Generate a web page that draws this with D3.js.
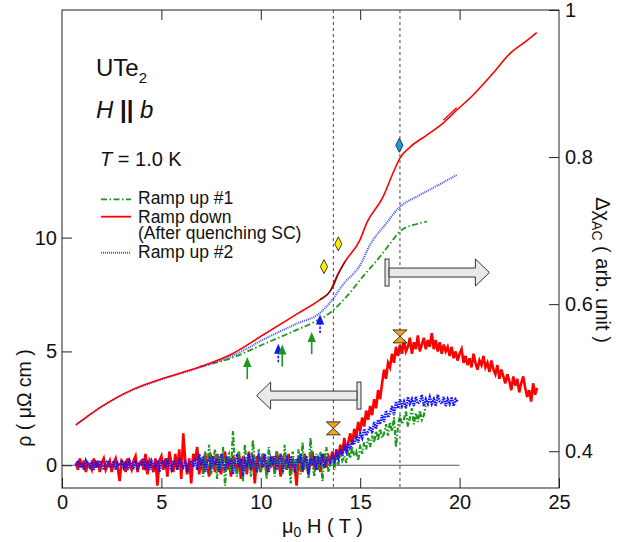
<!DOCTYPE html>
<html><head><meta charset="utf-8">
<script src="https://cdn.jsdelivr.net/npm/d3@7"></script>
<style>body{margin:0;background:#fff}svg{display:block}text{white-space:pre}</style>
</head><body><svg id="c" width="630" height="542"></svg>
<script>
// ---------------- DATA ----------------
// Resistivity (left axis, μΩ cm), sampled every fieldStep tesla
const fieldStep = 0.1;
const rhoDownStart = 0.7;
const rhoDown = [
0.1,-0.2,0.3,-0.1,0.2,-0.3,0.1,0.0,-0.2,0.3,
-0.1,0.2,-0.3,0.1,0.3,-0.2,0.0,0.2,-0.3,0.1,
0.3,-0.1,-0.7,0.2,0.1,-0.3,0.3,0.0,-0.2,0.2,
0.4,-0.3,0.1,0.2,-0.2,0.5,-0.4,0.2,0.0,-0.3,
0.3,-0.9,0.2,0.4,-0.2,0.3,-0.5,0.6,0.1,-0.3,
0.5,-0.2,0.7,-0.6,1.4,0.2,-0.4,0.3,-0.8,0.5,
0.2,0.8,-0.4,0.3,-0.3,0.5,0.0,-0.5,0.4,0.2,
-0.3,0.5,0.1,-0.4,0.3,0.6,-0.2,0.2,-0.5,0.4,
0.1,-0.3,0.5,-0.6,0.3,0.2,-0.4,0.6,-0.2,0.3,
-0.8,0.4,0.0,-0.3,0.5,0.2,-0.4,0.3,-0.1,0.4,
-0.3,0.6,0.1,-0.5,0.3,0.2,-0.2,0.5,-0.4,0.3,
0.0,-0.9,0.4,0.2,-0.3,0.5,0.1,-0.4,0.3,0.6,
-0.2,0.4,0.1,-0.3,0.5,0.2,-0.1,0.4,
0.2,0.6,0.1,0.7,0.3,0.9,0.5,1.2,0.6,1.0,
1.4,0.9,1.6,1.2,1.9,1.5,2.1,1.7,2.4,2.0,
2.6,2.2,2.9,2.5,3.3,2.9,3.6,4.2,3.8,4.5,
4.3,4.9,4.5,5.2,4.8,5.3,4.9,5.5,5.0,5.2,
5.6,4.9,5.4,5.1,5.7,5.0,5.3,5.6,5.1,5.5,
5.2,5.8,5.1,5.5,5.0,5.4,4.9,5.3,5.0,5.2,
4.8,5.2,4.7,5.0,4.6,4.9,5.1,4.5,4.8,4.4,
4.7,4.3,4.9,4.5,4.2,4.6,4.4,4.8,4.3,4.5,
4.1,4.6,4.2,4.0,4.4,3.8,4.2,3.9,3.6,4.0,
3.7,3.3,3.9,3.5,3.8,3.2,3.6,3.9,3.4,3.0,
3.3,2.8,3.6,3.1,3.4];
const rhoUp2Start = 0.7;
const rhoUp2 = [
0.0,0.2,-0.1,0.1,-0.2,0.2,0.0,-0.1,0.2,-0.2,
0.1,-0.1,0.2,0.0,-0.2,0.1,0.2,-0.1,0.0,0.2,
-0.2,0.1,0.0,0.2,-0.1,0.1,-0.2,0.2,0.0,-0.1,
0.2,-0.2,0.1,0.0,0.3,-0.1,0.1,-0.2,0.2,0.0,
-0.1,0.2,-0.3,0.1,0.2,-0.1,0.3,0.0,-0.2,0.2,
0.1,-0.2,0.3,0.0,-0.1,0.2,-0.3,0.1,0.2,-0.1,
0.3,-0.2,0.5,0.0,0.4,-0.3,0.2,0.3,-0.2,0.4,
0.0,0.3,-0.3,0.5,0.1,-0.2,0.4,0.0,0.3,-0.4,
0.2,0.4,-0.1,0.3,-0.5,0.2,0.0,0.5,-0.2,0.3,
0.1,-0.3,0.4,0.2,-0.1,0.5,0.0,-0.3,0.3,0.1,
0.4,-0.2,0.2,0.5,-0.3,0.1,0.3,-0.1,0.4,0.0,
-0.3,0.3,0.1,0.5,-0.2,0.2,0.4,-0.4,0.3,0.0,
0.4,-0.2,0.3,0.1,0.5,-0.1,0.3,0.2,
0.1,0.4,0.2,0.5,0.3,0.7,0.4,0.8,0.6,1.0,
0.7,1.1,0.9,1.3,1.0,1.4,1.2,1.6,1.3,1.5,
1.7,1.4,1.9,1.6,2.0,1.8,2.2,1.9,2.4,2.1,
2.3,2.6,2.2,2.8,2.5,2.9,2.6,2.8,2.5,3.0,
2.7,2.9,2.6,3.0,2.7,2.8,3.1,2.6,2.9,2.7,
3.0,2.7,2.9,2.6,3.1,2.8,2.7,3.0,2.6,2.9,
2.7,3.0,2.6,2.9,2.8];
const rhoUp1Start = 7.0;
const rhoUp1 = [
0.3,-0.5,0.6,-0.2,0.9,-0.4,0.2,0.7,-0.6,0.4,
-0.2,0.8,-0.9,0.3,0.5,-0.3,1.5,0.0,-0.5,0.6,
0.2,-0.7,0.9,-0.2,0.4,-0.5,1.1,0.1,-0.4,0.7,
-0.3,0.5,0.2,-0.6,0.8,-0.1,0.4,-0.5,0.6,0.0,
0.5,-0.4,0.9,-0.2,0.3,-0.8,0.6,0.1,-0.3,0.7,
-0.4,1.0,-0.2,0.4,-0.6,1.2,0.0,-0.5,0.5,-0.2,
0.6,-0.7,0.3,0.8,-0.3,
0.1,0.5,-0.2,0.4,0.0,0.6,0.2,0.4,0.1,0.7,
0.3,0.8,0.4,0.6,0.2,0.9,0.5,1.0,0.7,1.2,
0.8,1.3,1.0,1.5,1.1,1.6,1.2,1.4,1.8,1.3,
1.9,1.5,2.1,0.8,1.7,2.2,1.8,2.0,2.4,1.7,
2.1,2.5,1.8,2.3,1.9,2.4,2.0,2.2,2.6];

// AC susceptibility (right axis, arb. unit)
const chiDownField = [0.70,1.91,3.57,4.93,6.94,8.60,10.11,11.81,12.98,13.48,13.82,14.24,14.99,15.33,16.15,16.65,17.00,17.51,18.35,19.17,19.85,20.67,21.68,22.54,23.40,23.88];
const chiDownValue = [0.4357,0.4593,0.4841,0.4976,0.5148,0.5330,0.5580,0.5865,0.6061,0.6174,0.6377,0.6580,0.6875,0.7105,0.7458,0.7783,0.7986,0.8136,0.8298,0.8461,0.8637,0.8841,0.9139,0.9410,0.9586,0.9691];
const chiDownLoopField = [19.18,19.85];
const chiDownLoopValue = [0.8500,0.8670];
const chiDarkField = [12.98,13.30,13.60,13.90,14.24];
const chiDarkValue = [0.6061,0.6120,0.6220,0.6410,0.6580];
const chiUp2Field = [0.70,1.91,3.57,4.93,6.94,8.60,10.13,11.81,12.98,13.48,14.13,15.14,15.33,16.33,17.00,17.84,18.66,19.85];
const chiUp2Value = [0.4357,0.4590,0.4834,0.4970,0.5139,0.5300,0.5520,0.5735,0.5881,0.6020,0.6264,0.6603,0.6720,0.7105,0.7326,0.7462,0.7580,0.7756];
const chiUp1Field = [6.94,8.60,10.13,11.81,12.63,13.48,14.32,15.14,16.00,16.65,17.00,17.84,18.35];
const chiUp1Value = [0.5150,0.5275,0.5455,0.5650,0.5750,0.5881,0.6106,0.6377,0.6648,0.6875,0.6990,0.7090,0.7123];

// Annotations
const markLines = [13.65, 17.0];
const diamondField = [13.18, 13.90, 16.97];
const diamondValue = [0.651, 0.682, 0.816];
const diamondKind = ["y", "y", "b"];
const hourglassField = [13.65, 17.0];
const hourglassRho = [1.62, 5.66];
const smallArrowField = [9.32, 10.88, 11.08, 12.56, 12.98];
const smallArrowValue = [0.528, 0.546, 0.545, 0.562, 0.586];
const smallArrowKind = ["g", "b", "g", "g", "b"];

const xTicks = [0, 5, 10, 15, 20, 25];
const yLTicks = [0, 5, 10];
const yRTicks = [0.4, 0.6, 0.8, 1];

// ---------------- DRAW ----------------
const FONT = "'Liberation Sans', Arial, Helvetica, sans-serif";
const RED = "#ff0000", GREEN = "#1c981c", BLUE = "#1414ff", BLUE2 = "#3a4cff";
const svg = d3.select("#c");
const x = d3.scaleLinear().domain([0, 25]).range([62, 559]);
const yL = d3.scaleLinear().domain([-1, 20]).range([488, 10]);
const yR = d3.scaleLinear().domain([0.35, 1.0]).range([488, 10]);

svg.append("defs").append("clipPath").attr("id", "clip")
  .append("rect").attr("x", 62).attr("y", 10).attr("width", 497).attr("height", 478);
const plot = svg.append("g").attr("clip-path", "url(#clip)");

// zero line
plot.append("line").attr("x1", x(0)).attr("x2", x(20)).attr("y1", yL(0)).attr("y2", yL(0))
  .attr("stroke", "#555").attr("stroke-width", 1.2);

// dashed marker lines
markLines.forEach(f => {
  svg.append("line").attr("x1", x(f)).attr("x2", x(f)).attr("y1", 10).attr("y2", 488)
    .attr("stroke", "#444").attr("stroke-width", 1).attr("stroke-dasharray", "3,3");
});

const lineL = d3.line().x(d => x(d[0])).y(d => yL(d[1]));
const lineR = d3.line().x(d => x(d[0])).y(d => yR(d[1])).curve(d3.curveMonotoneX);
const lineRlin = d3.line().x(d => x(d[0])).y(d => yR(d[1]));
const noisy = (start, arr) => arr.map((v, i) => [start + i * fieldStep, v]);
const zip = (a, b) => a.map((v, i) => [v, b[i]]);

// resistivity (noisy)
plot.append("path").attr("d", lineL(noisy(rhoDownStart, rhoDown)))
  .attr("fill", "none").attr("stroke", RED).attr("stroke-width", 2.6).attr("stroke-linejoin", "miter");
plot.append("path").attr("d", lineL(noisy(rhoUp1Start, rhoUp1)))
  .attr("fill", "none").attr("stroke", GREEN).attr("stroke-width", 2.2).attr("stroke-dasharray", "5,2,1.5,2");
plot.append("path").attr("d", lineL(noisy(rhoUp2Start, rhoUp2)))
  .attr("fill", "none").attr("stroke", BLUE).attr("stroke-width", 2.5).attr("stroke-dasharray", "1.5,1");

// susceptibility (smooth)
plot.append("path").attr("d", lineR(zip(chiUp1Field, chiUp1Value)))
  .attr("fill", "none").attr("stroke", GREEN).attr("stroke-width", 1.8).attr("stroke-dasharray", "6,2.5,1.5,2.5");
plot.append("path").attr("d", lineR(zip(chiUp2Field, chiUp2Value)))
  .attr("fill", "none").attr("stroke", BLUE2).attr("stroke-width", 2).attr("stroke-dasharray", "1,1");
plot.append("path").attr("d", lineR(zip(chiDownField, chiDownValue)))
  .attr("fill", "none").attr("stroke", RED).attr("stroke-width", 1.6);
plot.append("path").attr("d", lineRlin(zip(chiDownLoopField, chiDownLoopValue)))
  .attr("fill", "none").attr("stroke", RED).attr("stroke-width", 1.2);
plot.append("path").attr("d", lineR(zip(chiDarkField, chiDarkValue)))
  .attr("fill", "none").attr("stroke", "#6a1010").attr("stroke-width", 1.3);

// small arrows
smallArrowField.forEach((f, i) => {
  const cx = x(f), ty = yR(smallArrowValue[i]);
  const kind = smallArrowKind[i];
  const col = kind === "g" ? GREEN : BLUE;
  const len = kind === "g" ? 22 : 19;
  svg.append("line").attr("x1", cx).attr("x2", cx).attr("y1", ty + 8).attr("y2", ty + len)
    .attr("stroke", col).attr("stroke-width", 1.6).attr("stroke-dasharray", kind === "b" ? "2.5,1.5" : null);
  svg.append("path").attr("d", `M${cx},${ty} L${cx + 4.2},${ty + 10} L${cx - 4.2},${ty + 10} Z`).attr("fill", col);
});

// big grey arrows
function bigArrow(xs, xt, cy, dir) {
  const g = svg.append("g");
  const H = 13.5, h = 4.5, head = 14, bar = 4;
  let d;
  if (dir > 0) {
    d = `M${xs + bar},${cy - h} L${xt - head},${cy - h} L${xt - head},${cy - H} L${xt},${cy} L${xt - head},${cy + H} L${xt - head},${cy + h} L${xs + bar},${cy + h} Z`;
    g.append("rect").attr("x", xs).attr("y", cy - H).attr("width", bar).attr("height", 2 * H);
  } else {
    d = `M${xs - bar},${cy - h} L${xt + head},${cy - h} L${xt + head},${cy - H} L${xt},${cy} L${xt + head},${cy + H} L${xt + head},${cy + h} L${xs - bar},${cy + h} Z`;
    g.append("rect").attr("x", xs - bar).attr("y", cy - H).attr("width", bar).attr("height", 2 * H);
  }
  g.append("path").attr("d", d);
  g.selectAll("*").attr("fill", "#e9e9e9").attr("stroke", "#333").attr("stroke-width", 1);
}
bigArrow(x(16.25), x(21.5), yR(0.643), 1);
bigArrow(x(15.04), x(9.79), yL(3.06), -1);

// diamonds
diamondField.forEach((f, i) => {
  const cx = x(f), cy = yR(diamondValue[i]);
  svg.append("path").attr("d", `M${cx},${cy - 7} L${cx + 3.6},${cy} L${cx},${cy + 7} L${cx - 3.6},${cy} Z`)
    .attr("fill", diamondKind[i] === "y" ? "#ffee00" : "#1a9be0").attr("stroke", "#111").attr("stroke-width", 0.8);
});
// hourglasses
hourglassField.forEach((f, i) => {
  const cx = x(f), cy = yL(hourglassRho[i]);
  svg.append("path").attr("d", `M${cx - 7},${cy - 6.5} L${cx + 7},${cy - 6.5} L${cx},${cy} Z M${cx - 7},${cy + 6.5} L${cx + 7},${cy + 6.5} L${cx},${cy} Z`)
    .attr("fill", "#f4a21e").attr("stroke", "#111").attr("stroke-width", 0.8);
});

// frame
svg.append("rect").attr("x", 62).attr("y", 10).attr("width", 497).attr("height", 478)
  .attr("fill", "none").attr("stroke", "#222").attr("stroke-width", 1);

// axes
function styleAxis(g) {
  g.select(".domain").remove();
  g.attr("font-family", FONT).attr("font-size", 20).attr("color", "#222");
  g.selectAll("text").attr("fill", "#111");
}
svg.append("g").attr("transform", "translate(0,488)")
  .call(d3.axisBottom(x).tickValues(xTicks).tickSize(-10).tickPadding(7)).call(styleAxis);
svg.append("g").attr("transform", "translate(0,10)")
  .call(d3.axisTop(x).tickValues([5, 10, 15, 20]).tickSize(-10).tickFormat("")).call(styleAxis);
svg.append("g").attr("transform", "translate(62,0)")
  .call(d3.axisLeft(yL).tickValues(yLTicks).tickSize(-10).tickPadding(5)).call(styleAxis);
svg.append("g").attr("transform", "translate(559,0)")
  .call(d3.axisRight(yR).tickValues(yRTicks).tickSize(-10).tickPadding(6)
    .tickFormat(d => d === 1 ? "1" : d.toFixed(1))).call(styleAxis);

// axis titles
const bt = svg.append("text").attr("x", 282).attr("y", 533).attr("font-family", FONT).attr("font-size", 20).attr("fill", "#111");
bt.append("tspan").text("μ");
bt.append("tspan").attr("font-size", 14).attr("dy", 4).text("0");
bt.append("tspan").attr("dy", -4).text(" H ( T )");

svg.append("text").attr("transform", "translate(31,398) rotate(-90)").attr("text-anchor", "middle")
  .attr("font-family", FONT).attr("font-size", 19.5).attr("fill", "#111").text("ρ ( μΩ cm )");

const rt = svg.append("text").attr("transform", "translate(596,270) rotate(90)").attr("text-anchor", "middle")
  .attr("font-family", FONT).attr("font-size", 20).attr("fill", "#111");
rt.append("tspan").text("Δχ");
rt.append("tspan").attr("font-size", 14).attr("dy", 4).text("AC");
rt.append("tspan").attr("dy", -4).text(" ( arb. unit )");

// annotations
const t1 = svg.append("text").attr("x", 96).attr("y", 76).attr("font-family", FONT).attr("font-size", 24).attr("fill", "#111");
t1.append("tspan").text("UTe");
t1.append("tspan").attr("font-size", 15).attr("dy", 7).text("2");
const t2 = svg.append("text").attr("x", 96).attr("y", 118).attr("font-family", FONT).attr("font-size", 24).attr("fill", "#111");
t2.append("tspan").attr("font-style", "italic").text("H");
t2.append("tspan").attr("font-weight", "bold").text(" || ");
t2.append("tspan").attr("font-style", "italic").text("b");
const t3 = svg.append("text").attr("x", 100).attr("y", 166).attr("font-family", FONT).attr("font-size", 20).attr("fill", "#111");
t3.append("tspan").attr("font-style", "italic").text("T");
t3.append("tspan").text(" = 1.0 K");

// legend
const legendLabels = [["Ramp up #1"], ["Ramp down", "(After quenching SC)"], ["Ramp up #2"]];
const legend = [
  {col: GREEN, dash: "6,2.5,1.5,2.5", ly: 199.3, ty: 204, w: 1.8},
  {col: RED, dash: null, ly: 216.7, ty: 222.7, w: 1.8},
  {col: BLUE2, dash: "1,1", ly: 252.7, ty: 258, w: 2}
];
legend.forEach((l, i) => {
  svg.append("line").attr("x1", 101).attr("x2", 131).attr("y1", l.ly).attr("y2", l.ly)
    .attr("stroke", l.col).attr("stroke-width", l.w).attr("stroke-dasharray", l.dash);
  const t = svg.append("text").attr("x", 138).attr("y", l.ty).attr("font-family", FONT)
    .attr("font-size", 17.5).attr("fill", "#111");
  legendLabels[i].forEach((s, j) => {
    t.append("tspan").attr("x", 138).attr("dy", j === 0 ? 0 : 16).text(s);
  });
});
</script></body></html>
